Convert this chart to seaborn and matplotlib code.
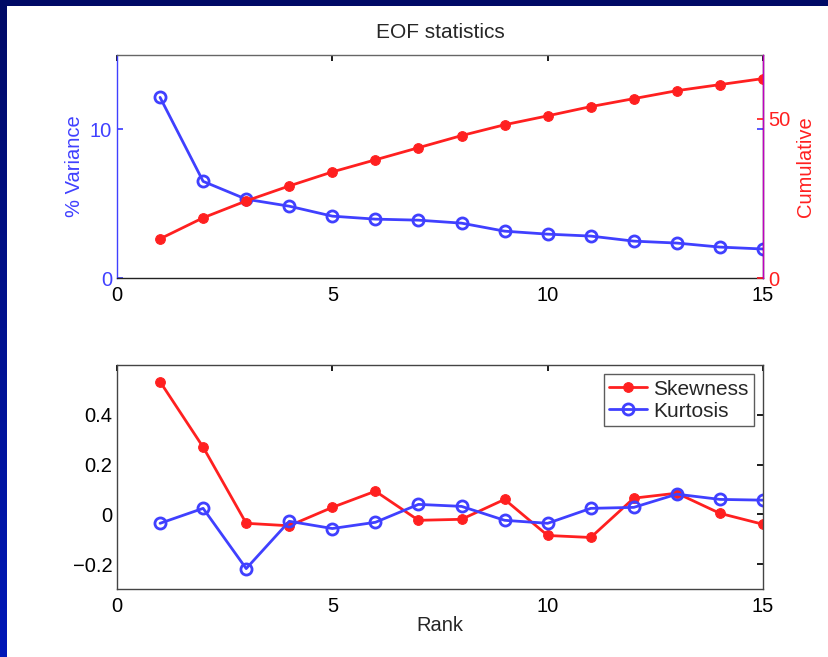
import numpy as np
import pandas as pd
import matplotlib
matplotlib.use("Agg")
import matplotlib.pyplot as plt
import seaborn as sns
from matplotlib.patches import Rectangle
from matplotlib.colors import LinearSegmentedColormap

rank = list(range(1, 16))
variance = [12.15, 6.5, 5.3, 4.83, 4.16, 3.96, 3.89, 3.69, 3.15, 2.95, 2.82, 2.48, 2.35, 2.08, 1.95]
cumulative = [12.3, 18.9, 24.2, 28.9, 33.3, 37.1, 40.9, 44.7, 48.1, 50.9, 53.8, 56.3, 58.8, 60.7, 62.6]
skewness = [0.533, 0.27, -0.036, -0.046, 0.028, 0.093, -0.024, -0.02, 0.06, -0.085, -0.093, 0.065, 0.085, 0.004, -0.04]
kurtosis = [-0.036, 0.024, -0.218, -0.028, -0.057, -0.032, 0.04, 0.032, -0.024, -0.036, 0.024, 0.028, 0.081, 0.06, 0.057]

sns.set_theme(style="white")
plt.rcParams['font.family'] = ['Liberation Sans', 'DejaVu Sans']

BLUE = '#4040ff'
RED = '#ff2020'
FS = 14.5
FS_T = 15

fig = plt.figure(figsize=(8.29, 6.57), dpi=100)
# background gradient band
bg = fig.add_axes([0, 0, 1, 1], zorder=-10)
grad = np.linspace(0, 1, 256).reshape(-1, 1)
cmap = LinearSegmentedColormap.from_list('bg', ['#000a66', '#0018b8'])
bg.imshow(grad, aspect='auto', cmap=cmap, extent=[0, 1, 0, 1], origin='upper')
bg.set_axis_off()
bg.add_patch(Rectangle((7 / 829, 0), 1, 1 - 6 / 657, transform=bg.transAxes, facecolor='white', edgecolor='none'))
bg.set_xlim(0, 1); bg.set_ylim(0, 1)

L, W = 117 / 829, (763 - 117) / 829
ax1 = fig.add_axes([L, 1 - 278 / 657, W, (278 - 55) / 657])
ax2 = fig.add_axes([L, 1 - 589 / 657, W, (589 - 365) / 657])

df = pd.DataFrame({'Rank': rank, 'Variance': variance, 'Cumulative': cumulative,
                   'Skewness': skewness, 'Kurtosis': kurtosis})

# Top panel
sns.lineplot(data=df, x='Rank', y='Variance', ax=ax1, color=BLUE, linewidth=2,
             marker='o', markersize=8, markerfacecolor='none', markeredgecolor=BLUE, markeredgewidth=2)
ax1r = ax1.twinx()
sns.lineplot(data=df, x='Rank', y='Cumulative', ax=ax1r, color=RED, linewidth=2,
             marker='o', markersize=7, markerfacecolor=RED, markeredgecolor=RED)
ax1.set_xlim(0, 15); ax1.set_ylim(0, 15)
ax1r.set_ylim(0, 70)
ax1.set_xticks([0, 5, 10, 15]); ax1.set_yticks([0, 10])
ax1r.set_yticks([0, 50])
ax1.set_xlabel(''); ax1r.set_xlabel('')
ax1.set_ylabel('% Variance', color=BLUE, fontsize=FS)
ax1r.set_ylabel('Cumulative', color=RED, fontsize=FS)
ax1.set_title('EOF statistics', fontsize=FS_T, pad=12)
ax1.tick_params(axis='x', direction='in', top=True, labelsize=FS, colors='black', length=4, pad=6)
ax1.tick_params(axis='y', direction='in', right=True, labelsize=FS, colors=BLUE, length=4)
ax1r.tick_params(axis='y', direction='in', labelsize=FS, colors=RED, length=4)
ax1r.tick_params(axis='x', top=False, bottom=False)
for s in ax1.spines.values():
    s.set_visible(True); s.set_linewidth(1); s.set_color('#222222')
ax1.spines['left'].set_color(BLUE)
ax1.spines['top'].set_color('#666666')
for s in ax1r.spines.values():
    s.set_visible(False)
ax1r.spines['right'].set_visible(True)
ax1r.spines['right'].set_color('#c000c0')
ax1r.spines['right'].set_linewidth(1)
ax1.patch.set_facecolor('white'); ax1r.patch.set_visible(False)

# Bottom panel
sns.lineplot(data=df, x='Rank', y='Skewness', ax=ax2, color=RED, linewidth=2,
             marker='o', markersize=7, markerfacecolor=RED, markeredgecolor=RED, label='Skewness')
sns.lineplot(data=df, x='Rank', y='Kurtosis', ax=ax2, color=BLUE, linewidth=2,
             marker='o', markersize=8, markerfacecolor='none', markeredgecolor=BLUE, markeredgewidth=2,
             label='Kurtosis')
ax2.set_xlim(0, 15); ax2.set_ylim(-0.3, 0.6)
ax2.set_xticks([0, 5, 10, 15]); ax2.set_yticks([-0.2, 0, 0.2, 0.4])
ax2.set_yticklabels(['\u22120.2', '0', '0.2', '0.4'])
ax2.set_xlabel('Rank', fontsize=FS, labelpad=0)
ax2.set_ylabel('')
ax2.tick_params(axis='both', direction='in', top=True, right=True, labelsize=FS, colors='black', length=4)
ax2.tick_params(axis='x', pad=6)
for s in ax2.spines.values():
    s.set_visible(True); s.set_linewidth(1); s.set_color('#444444')
leg = ax2.legend(loc='upper right', fontsize=FS_T, frameon=True, fancybox=False,
                 borderaxespad=0.45, handlelength=1.8, borderpad=0.25, labelspacing=0.15,
                 handletextpad=0.3)
leg.get_frame().set_edgecolor('#333333')
leg.get_frame().set_linewidth(1)

fig.savefig('out.png', dpi=100)
